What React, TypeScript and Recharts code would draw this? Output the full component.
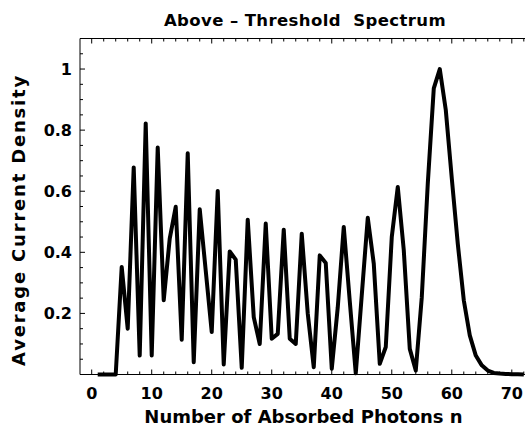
import React from "react";
import { LineChart, Line, XAxis, YAxis } from "recharts";

const PHOTONS = [
  1, 2, 3, 4, 5, 6, 7, 8, 9, 10, 11, 12, 13, 14, 15, 16, 17, 18, 19, 20, 21, 22, 23, 24,
  25, 26, 27, 28, 29, 30, 31, 32, 33, 34, 35, 36, 37, 38, 39, 40, 41, 42, 43, 44, 45, 46,
  47, 48, 49, 50, 51, 52, 53, 54, 55, 56, 57, 58, 59, 60, 61, 62, 63, 64, 65, 66, 67, 68,
  69, 70, 71, 72,
];
const CURRENT = [
  0, 0, 0, 0, 0.352, 0.15, 0.678, 0.062, 0.822, 0.062, 0.743, 0.243, 0.445, 0.549, 0.114,
  0.724, 0.04, 0.541, 0.34, 0.139, 0.601, 0.033, 0.403, 0.376, 0.022, 0.507, 0.188, 0.1,
  0.494, 0.117, 0.133, 0.474, 0.117, 0.1, 0.461, 0.2, 0.024, 0.39, 0.365, 0.019, 0.22,
  0.483, 0.24, 0.004, 0.26, 0.513, 0.363, 0.035, 0.09, 0.45, 0.614, 0.407, 0.084, 0.013,
  0.253, 0.625, 0.937, 1.0, 0.866, 0.642, 0.428, 0.243, 0.128, 0.062, 0.03, 0.013, 0.005,
  0.003, 0.002, 0.001, 0.0005, 0,
];
const X_TICKS = [
  0, 2, 4, 6, 8, 10, 12, 14, 16, 18, 20, 22, 24, 26, 28, 30, 32, 34, 36, 38, 40, 42, 44,
  46, 48, 50, 52, 54, 56, 58, 60, 62, 64, 66, 68, 70, 72,
];
const X_LABELS = [0, 10, 20, 30, 40, 50, 60, 70];
const Y_TICKS = [
  0.05, 0.1, 0.15, 0.2, 0.25, 0.3, 0.35, 0.4, 0.45, 0.5, 0.55, 0.6, 0.65, 0.7, 0.75, 0.8,
  0.85, 0.9, 0.95, 1.0, 1.05,
];
const Y_LABELS = ["0.2", "0.4", "0.6", "0.8", "1"];

const TITLE = "Above – Threshold  Spectrum";
const X_TITLE = "Number of Absorbed Photons n";
const Y_TITLE = "Average Current Density";

const data = PHOTONS.map((n, i) => ({ n, v: CURRENT[i] }));

const FONT = "'DejaVu Sans', 'Liberation Sans', Arial, sans-serif";

const BottomTick = (props: any) => {
  const { x, y, payload } = props;
  const v = payload.value;
  const major = X_LABELS.includes(v);
  return (
    <g>
      <line x1={x} y1={y} x2={x} y2={y - (major ? 5 : 3)} stroke="#000" strokeWidth={1} />
      {major && (
        <text x={x} y={y + 24.5} textAnchor="middle" fontFamily={FONT} fontWeight="bold" fontSize={16} fill="#000">
          {v}
        </text>
      )}
    </g>
  );
};

const TopTick = (props: any) => {
  const { x, y, payload } = props;
  const major = X_LABELS.includes(payload.value);
  return <line x1={x} y1={y} x2={x} y2={y + (major ? 5 : 3)} stroke="#000" strokeWidth={1} />;
};

const LeftTick = (props: any) => {
  const { x, y, payload } = props;
  const v = payload.value;
  const label = Y_LABELS.find((s) => Math.abs(parseFloat(s) - v) < 1e-6);
  return (
    <g>
      <line x1={x} y1={y} x2={x + (label ? 5 : 3)} y2={y} stroke="#000" strokeWidth={1} />
      {label && (
        <text x={x - 8} y={y + 5.8} textAnchor="end" fontFamily={FONT} fontWeight="bold" fontSize={16} fill="#000">
          {label}
        </text>
      )}
    </g>
  );
};

export default function App() {
  return (
    <div style={{ position: "absolute", left: 0, top: 0, width: 525, height: 432, overflow: "hidden", background: "#fff" }}>
      <LineChart width={525} height={432} data={data} margin={{ top: 37.5, right: 0, bottom: 0, left: 0 }}>
        <XAxis
          xAxisId="b"
          dataKey="n"
          type="number"
          domain={[-1.95, 72.2]}
          allowDataOverflow
          ticks={X_TICKS}
          interval={0}
          tickLine={false}
          tickSize={0}
          tickMargin={0}
          tick={<BottomTick />}
          axisLine={{ stroke: "#000", strokeWidth: 1 }}
          height={57.5}
          label={{
            content: () => (
              <text x={303.5} y={423} textAnchor="middle" fontFamily={FONT} fontWeight="bold" fontSize={18} fill="#000">
                {X_TITLE}
              </text>
            ),
          }}
        />
        <XAxis
          xAxisId="t"
          orientation="top"
          dataKey="n"
          type="number"
          domain={[-1.95, 72.2]}
          allowDataOverflow
          ticks={X_TICKS}
          interval={0}
          tickLine={false}
          tickSize={0}
          tickMargin={0}
          tick={<TopTick />}
          axisLine={{ stroke: "#000", strokeWidth: 1 }}
          height={1}
        />
        <YAxis
          yAxisId="l"
          type="number"
          domain={[0, 1.1]}
          ticks={Y_TICKS}
          interval={0}
          tickLine={false}
          tickSize={0}
          tickMargin={0}
          tick={<LeftTick />}
          axisLine={{ stroke: "#000", strokeWidth: 1 }}
          width={80}
          label={{
            content: () => (
              <g>
                <text
                  x={305}
                  y={26}
                  textAnchor="middle"
                  fontFamily={FONT}
                  fontWeight="bold"
                  fontSize={16.5}
                  letterSpacing={0.4}
                  style={{ whiteSpace: "pre" }}
                  fill="#000"
                >
                  {TITLE}
                </text>
                <text
                  x={0}
                  y={0}
                  transform="translate(24.5, 220) rotate(-90)"
                  textAnchor="middle"
                  fontFamily={FONT}
                  fontWeight="bold"
                  fontSize={18}
                  letterSpacing={1.8}
                  fill="#000"
                >
                  {Y_TITLE}
                </text>
              </g>
            ),
          }}
        />
        <Line
          xAxisId="b"
          yAxisId="l"
          type="linear"
          dataKey="v"
          stroke="#000"
          strokeWidth={4}
          strokeLinejoin="round"
          dot={false}
          activeDot={false}
          isAnimationActive={false}
        />
      </LineChart>
    </div>
  );
}
